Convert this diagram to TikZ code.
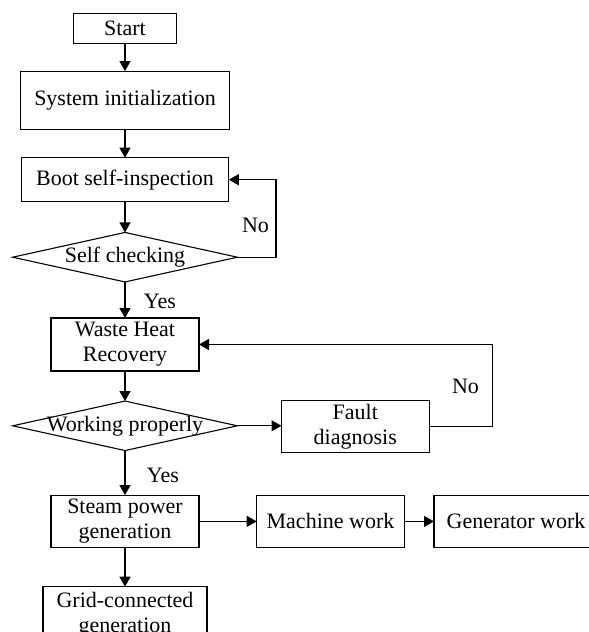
\documentclass[tikz,border=0pt]{standalone}
\usepackage{fontspec}
\setmainfont{Liberation Serif}
\usetikzlibrary{shapes.geometric,arrows.meta}
\begin{document}
\begin{tikzpicture}[x=1pt,y=-1pt,
  font=\fontsize{22}{25}\selectfont,
  every node/.style={inner sep=0pt, outer sep=0pt},
  box/.style={draw, line width=1.1pt, align=center},
  dia/.style={draw, line width=1.1pt, diamond, minimum width=224.6pt, minimum height=49.5pt},
  lbl/.style={anchor=base},
  arr/.style={line width=1.1pt, -{Triangle[length=10pt,width=11pt]}},
  ln/.style={line width=1.1pt}]
\useasboundingbox (0,0) rectangle (589,632);
\clip (0,0) rectangle (589,632);

\node[box, minimum width=102.7pt, minimum height=30pt] (start) at (125,28.3) {Start};
\node[box, minimum width=208.6pt, minimum height=58.3pt] (init) at (125,100.2) {System initialization};
\node[box, minimum width=207.6pt, minimum height=44pt] (boot) at (125,179.7) {Boot self-inspection};
\node[dia] (sc) at (125,257.2) {};
\node (sctext) at (sc) {Self checking};
\node[box, minimum width=148pt, minimum height=53pt] (whr) at (125,344.5) {Waste Heat\\Recovery};
\node[dia] (wp) at (125,425.8) {};
\node (wptext) at (wp) {Working properly};
\node[box, minimum width=147.6pt, minimum height=52pt] (fault) at (355.3,426.5) {Fault\\diagnosis};
\node[box, minimum width=148pt, minimum height=52.7pt] (steam) at (125,521.4) {Steam power\\generation};
\node[box, minimum width=147.6pt, minimum height=52.7pt] (mach) at (330.5,521.4) {Machine work};
\node[box, minimum width=164pt, minimum height=52.7pt] (gen) at (516,521.4) {Generator work};
\node[box, minimum width=164pt, minimum height=56pt] (grid) at (125,614.7) {Grid-connected\\generation};

\node[lbl] (no1) at (255.5,232) {No};
\node[lbl] (yes1) at (160,308) {Yes};
\node[lbl] (no2) at (465.5,393) {No};
\node[lbl] (yes2) at (163,482.3) {Yes};

\coordinate (l1) at (276,0);
\coordinate (l2) at (492.7,0);

\draw[arr] (start) -- (init);
\draw[arr] (init) -- (boot);
\draw[arr] (boot) -- (sc.north);
\draw[arr] (sc.south) -- (whr);
\draw[arr] (sc.east) -- (sc.east -| l1) -- (boot.east -| l1) -- (boot.east);
\draw[arr] (whr) -- (wp.north);
\draw[arr] (wp.east) -- (fault.west |- wp.east);
\draw[arr] (fault.east) -- (fault.east -| l2) -- (whr.east -| l2) -- (whr.east);
\draw[arr] (wp.south) -- (steam);
\draw[arr] (steam) -- (mach);
\draw[arr] (mach) -- (gen);
\draw[arr] (steam) -- (grid);
\end{tikzpicture}
\end{document}
